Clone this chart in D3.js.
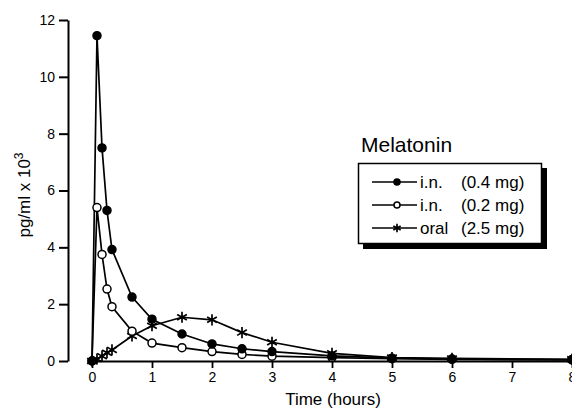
<!DOCTYPE html>
<html>
<head>
<meta charset="utf-8">
<script src="https://cdn.jsdelivr.net/npm/d3@7"></script>
<style>
  body { margin: 0; background: #fff; }
  svg { font-family: "Liberation Sans", Arial, sans-serif; }
</style>
</head>
<body>
<svg id="chart" width="572" height="412"></svg>
<script>
// sampling times (hours)
const times = [0, 0.083, 0.167, 0.25, 0.333, 0.667, 1, 1.5, 2, 2.5, 3, 4, 5, 6, 8];
// melatonin, pg/ml x 10^3
const in04 = [0, 11.45, 7.5, 5.3, 3.92, 2.25, 1.47, 0.95, 0.6, 0.43, 0.33, 0.18, 0.1, 0.07, 0.05];
const in02 = [0, 5.4, 3.75, 2.53, 1.91, 1.05, 0.63, 0.47, 0.33, 0.23, 0.17, 0.12, 0.08, 0.06, 0.04];
const oral = [0, 0.07, 0.17, 0.29, 0.39, 0.88, 1.24, 1.54, 1.45, 1.0, 0.66, 0.27, 0.12, 0.09, 0.06];
const seriesNames = ["i.n.", "i.n.", "oral"];
const doses = ["(0.4 mg)", "(0.2 mg)", "(2.5 mg)"];
const xTicks = [0, 1, 2, 3, 4, 5, 6, 7, 8];
const yTicks = [0, 2, 4, 6, 8, 10, 12];

const svg = d3.select("#chart");

// scales
const x = d3.scaleLinear().domain([0, 8]).range([92, 572]);
const y = d3.scaleLinear().domain([0, 12]).range([361, 20]);

// y axis (detached, left of x=0)
const yAxis = svg.append("g")
  .attr("transform", "translate(68,0)")
  .call(d3.axisLeft(y).tickValues(yTicks).tickSize(9).tickSizeOuter(0).tickPadding(4));
yAxis.select(".domain").attr("stroke-width", 2);
yAxis.selectAll(".tick line").attr("stroke-width", 2);
yAxis.selectAll("text").attr("font-size", 14).attr("fill", "#000")
  .attr("font-family", "Liberation Sans, Arial, sans-serif");

// x axis
const xAxis = svg.append("g")
  .attr("transform", "translate(0,361)")
  .call(d3.axisBottom(x).tickValues(xTicks).tickSize(7).tickSizeOuter(0).tickPadding(4));
xAxis.select(".domain").attr("stroke-width", 2.2);
xAxis.selectAll(".tick line").attr("stroke-width", 1.8);
xAxis.selectAll("text").attr("font-size", 14).attr("fill", "#000")
  .attr("font-family", "Liberation Sans, Arial, sans-serif");

// axis titles
svg.append("text")
  .attr("x", 333).attr("y", 405)
  .attr("text-anchor", "middle")
  .attr("font-size", 17)
  .text("Time (hours)");

const yl = svg.append("text")
  .attr("transform", "translate(30,195) rotate(-90)")
  .attr("text-anchor", "middle")
  .attr("font-size", 17);
yl.append("tspan").text("pg/ml x 10");
yl.append("tspan").attr("font-size", 12).attr("dy", -7).text("3");

// series
const series = [
  { vals: in04, kind: "filled" },
  { vals: in02, kind: "open" },
  { vals: oral, kind: "star" }
];

const line = d3.line()
  .x(d => x(d[0]))
  .y(d => y(d[1]));

const star = d3.symbol().type(d3.symbolAsterisk);

function drawMarker(g, kind, r) {
  if (kind === "star") {
    g.append("path")
      .attr("d", star.size(r * r * 5.5)())
      .attr("fill", "none")
      .attr("stroke", "#000")
      .attr("stroke-width", 1.7);
  } else {
    g.append("circle")
      .attr("r", r)
      .attr("fill", kind === "filled" ? "#000" : "#fff")
      .attr("stroke", "#000")
      .attr("stroke-width", 1.5);
  }
}

// draw lines first, then markers (oral at bottom)
[2, 1, 0].forEach(i => {
  const pts = times.map((t, j) => [t, series[i].vals[j]]);
  svg.append("path")
    .datum(pts)
    .attr("d", line)
    .attr("fill", "none")
    .attr("stroke", "#000")
    .attr("stroke-width", 1.7);
});
[2, 1, 0].forEach(i => {
  times.forEach((t, j) => {
    const g = svg.append("g")
      .attr("transform", `translate(${x(t)},${y(series[i].vals[j])})`);
    drawMarker(g, series[i].kind, 4);
  });
});

// legend
svg.append("text")
  .attr("x", 361).attr("y", 152)
  .attr("font-size", 21)
  .text("Melatonin");

svg.append("rect")
  .attr("x", 363).attr("y", 168)
  .attr("width", 184).attr("height", 81)
  .attr("fill", "#000");
svg.append("rect")
  .attr("x", 358.5).attr("y", 163.5)
  .attr("width", 183).attr("height", 80)
  .attr("fill", "#fff")
  .attr("stroke", "#000")
  .attr("stroke-width", 1.5);

const rowY = [182, 205, 228];
series.forEach((s, i) => {
  svg.append("line")
    .attr("x1", 372).attr("x2", 417)
    .attr("y1", rowY[i]).attr("y2", rowY[i])
    .attr("stroke", "#000").attr("stroke-width", 1.5);
  const g = svg.append("g").attr("transform", `translate(397,${rowY[i]})`);
  drawMarker(g, s.kind, 3);
  svg.append("text")
    .attr("x", 420).attr("y", rowY[i] + 6)
    .attr("font-size", 17)
    .text(seriesNames[i]);
  svg.append("text")
    .attr("x", 461).attr("y", rowY[i] + 6)
    .attr("font-size", 17)
    .text(doses[i]);
});
</script>
</body>
</html>
